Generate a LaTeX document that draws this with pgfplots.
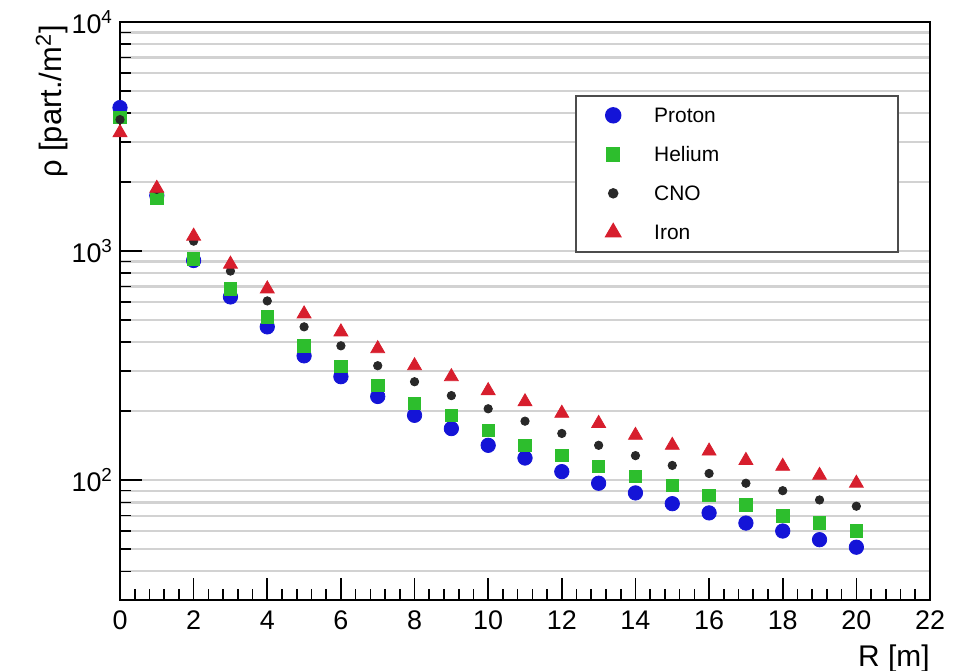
\documentclass[border=0pt]{standalone}
\usepackage{fontspec}
\setmainfont{Liberation Sans}
\usepackage{pgfplots}
\pgfplotsset{compat=1.18}
\definecolor{pblue}{RGB}{20,20,215}
\definecolor{hgreen}{RGB}{45,190,45}
\definecolor{cblack}{RGB}{40,40,40}
\definecolor{ired}{RGB}{215,30,45}
\begin{document}
\begin{tikzpicture}
\path[use as bounding box] (-60bp,-35.5bp) rectangle (424bp,300bp);
\begin{axis}[
  at={(0,0)}, anchor=south west,
  scale only axis, width=405bp, height=289bp,
  ymode=log, log basis y=10,
  xmin=0, xmax=22, ymin=30, ymax=10000,
  xtick={0,2,...,22}, minor x tick num=4,
  ytick={100,1000,10000},
  minor ytick={30,40,50,60,70,80,90,200,300,400,500,600,700,800,900,2000,3000,4000,5000,6000,7000,8000,9000},
  yticklabels={10\textsuperscript{2},10\textsuperscript{3},10\textsuperscript{4}},
  xtick pos=bottom, ytick pos=left,
  tick align=inside,
  major tick length=11bp, minor tick length=5.5bp,
  tick style={black, line width=0.8bp},
  axis line style={black, line width=1.1bp},
  ymajorgrids, yminorgrids,
  major grid style={gray!35, line width=1.1bp},
  minor grid style={gray!35, line width=1.1bp},
  /pgf/number format/assume math mode=true,
  ticklabel style={font=\fontsize{13.5}{16}\selectfont},
  xticklabel style={yshift=-2bp},
  xlabel={R [m]},
  xlabel style={at={(rel axis cs:1,0)}, anchor=north east, yshift=-22bp, font=\fontsize{15}{18}\selectfont, inner sep=0pt},
  ylabel={ρ [part./m\textsuperscript{2}]},
  ylabel style={at={(rel axis cs:0,1)}, anchor=south east, yshift=26bp, xshift=-1.5bp, font=\fontsize{15.5}{18}\selectfont, inner sep=0pt},
  legend cell align=left,
  legend image code/.code={\path[draw=none] (0bp,0bp) -- (29bp,0bp); \draw plot[only marks] coordinates {(8.5bp,0bp)};},
  legend style={at={(rel axis cs:0.562,0.874)}, anchor=north west, draw=black!70, line width=1bp, fill=white,
    font=\fontsize{10.5}{12}\selectfont, inner xsep=10bp, inner ysep=0bp, row sep=0bp,
    nodes={minimum height=19.5bp, inner sep=0pt, text depth=0pt},
    /tikz/every even column/.append style={text width=112bp}},
]
\addplot[only marks, mark=*, mark size=3.6bp, pblue, mark options={fill=pblue, draw=pblue}] coordinates {
(0,4230) (1,1750) (2,910) (3,631) (4,467) (5,349) (6,283) (7,232) (8,192) (9,168) (10,142)
(11,125) (12,109) (13,97) (14,88) (15,79) (16,72) (17,65) (18,60) (19,55) (20,51)};
\addlegendentry{Proton}
\addplot[only marks, mark=square*, mark size=3.1bp, hgreen, mark options={fill=hgreen, draw=hgreen}] coordinates {
(0,3830) (1,1700) (2,923) (3,684) (4,517) (5,386) (6,313) (7,259) (8,216) (9,192) (10,165)
(11,142) (12,128) (13,115) (14,104) (15,95) (16,86) (17,78) (18,70) (19,65) (20,60)};
\addlegendentry{Helium}
\addplot[only marks, mark=*, mark size=2.1bp, cblack, mark options={fill=cblack, draw=cblack}] coordinates {
(0,3750) (1,1860) (2,1105) (3,818) (4,606) (5,467) (6,386) (7,316) (8,269) (9,234) (10,205)
(11,181) (12,160) (13,142) (14,128) (15,116) (16,107) (17,97) (18,90) (19,82) (20,77)};
\addlegendentry{CNO}
\addplot[only marks, mark=triangle*, mark size=4bp, ired, mark options={fill=ired, draw=ired}] coordinates {
(0,3290) (1,1880) (2,1162) (3,877) (4,684) (5,532) (6,444) (7,375) (8,316) (9,283) (10,246)
(11,220) (12,196) (13,177) (14,157) (15,142) (16,134) (17,122) (18,115) (19,105) (20,97)};
\addlegendentry{Iron}
\end{axis}
\end{tikzpicture}
\end{document}
